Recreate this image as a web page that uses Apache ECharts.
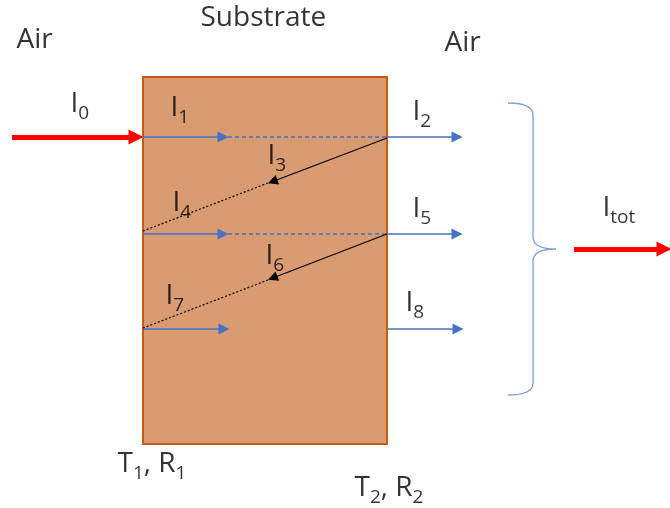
<!DOCTYPE html>
<html><head><meta charset="utf-8">
<script src="https://cdn.jsdelivr.net/npm/echarts@6/dist/echarts.min.js"></script>
<style>html,body{margin:0;padding:0;background:#fff}#c{width:670px;height:508px}</style>
</head><body><div id="c"></div>
<script>
// Diagram geometry (diagram units = axis values)
const substrateBox = [[143, 77, 387, 444]];
const incidentRed = [[[12, 137], [136, 137]]];
const totalRed = [[[574, 249], [664, 249]]];
const blueInside = [[[143, 137], [223, 137]], [[143, 234], [223, 234]], [[143, 329], [224, 329]]];
const blueInsideDashed = [[[228, 137], [387, 137]], [[228, 234], [387, 234]]];
const blueOut = [[[387, 137], [457, 137]], [[387, 234], [457, 234]], [[388, 329], [458, 329]]];
const reflectSolid = [[[387, 138], [272.7, 181.5]], [[387, 234], [272.7, 278]]];
const reflectDotted = [[[268, 183], [143, 231]], [[268, 280], [143, 328]]];
const bracePoints = [[508,103],[533,103],[533,115],[533,237],[533,249],[556,249],[533,249],[533,261],[533,383],[533,395],[508,395]];
const labelTexts = ['{m|Air}', '{m|Substrate}', '{m|Air}', '{m|I}{s|0}', '{m|I}{s|1}', '{m|I}{s|2}', '{m|I}{s|3}', '{m|I}{s|4}', '{m|I}{s|5}', '{m|I}{s|6}', '{m|I}{s|7}', '{m|I}{s|8}', '{m|I}{s|tot}', '{m|T}{s|1}{m|, R}{s|1}', '{m|T}{s|2}{m|, R}{s|2}'];
const labelAnchors = [[16, 40], [200, 18], [444, 43], [70, 104], [170, 108], [412, 112], [267, 156], [172, 203], [412, 209], [265, 256], [165, 296], [405, 303], [602, 208], [117, 464], [354, 488]];

const toLines = arr => arr.map(c => ({ coords: c }));
const lineSeries = (data, color, width, type, sym, size, z) => ({
  type: 'lines', coordinateSystem: 'cartesian2d', z: z || 3,
  data: toLines(data),
  symbol: sym ? ['none', sym] : ['none', 'none'],
  symbolSize: size || 10,
  lineStyle: { color: color, width: width, type: type, opacity: 1, curveness: 0 },
  itemStyle: { color: color },
  silent: true
});

const chart = echarts.init(document.getElementById('c'), null, { renderer: 'canvas' });
chart.setOption({
  animation: false,
  backgroundColor: '#ffffff',
  grid: { left: 0, right: 0, top: 0, bottom: 0 },
  xAxis: { type: 'value', min: 0, max: 670, show: false },
  yAxis: { type: 'value', min: 0, max: 508, inverse: true, show: false },
  series: [
    {
      type: 'custom', z: 1, clip: false,
      data: substrateBox,
      renderItem: (params, api) => {
        const p0 = api.coord([api.value(0), api.value(1)]);
        const p1 = api.coord([api.value(2), api.value(3)]);
        return { type: 'rect', shape: { x: p0[0], y: p0[1], width: p1[0] - p0[0], height: p1[1] - p0[1] },
          style: { fill: '#D99B72', stroke: '#C55A11', lineWidth: 2 } };
      }
    },
    {
      type: 'custom', z: 2, clip: false,
      data: [0],
      renderItem: (params, api) => {
        const p = bracePoints.map(q => api.coord(q).map(v => v.toFixed(2)));
        const d = `M${p[0]} Q${p[1]} ${p[2]} L${p[3]} Q${p[4]} ${p[5]} Q${p[6]} ${p[7]} L${p[8]} Q${p[9]} ${p[10]}`;
        return { type: 'path', shape: { pathData: d }, style: { fill: null, stroke: '#7FA0D8', lineWidth: 1.3 } };
      }
    },
    lineSeries(blueInside, '#4472C4', 1.5, 'solid', 'triangle', 11),
    lineSeries(blueInsideDashed, '#4472C4', 1.5, [4, 3]),
    lineSeries(blueOut, '#4472C4', 1.5, 'solid', 'triangle', 11),
    lineSeries(reflectSolid, '#000000', 1.2, 'solid', 'triangle', 10),
    lineSeries(reflectDotted, '#000000', 1.2, [2, 2]),
    lineSeries(incidentRed, '#FF0000', 5, 'solid', 'triangle', 15, 4),
    lineSeries(totalRed, '#FF0000', 5, 'solid', 'triangle', 15, 4),
    {
      type: 'scatter', z: 5, silent: true,
      symbolSize: 1,
      itemStyle: { color: 'rgba(0,0,0,0)' },
      data: labelAnchors.map((a, i) => ({ value: a, name: labelTexts[i] })),
      label: {
        show: true, position: 'right', distance: 0,
        formatter: p => p.name,
        color: '#000',
        rich: {
          m: { fontFamily: 'Open Sans', fontSize: 28, lineHeight: 38, color: '#000' },
          s: { fontFamily: 'Open Sans', fontSize: 19, lineHeight: 19, verticalAlign: 'bottom', color: '#000' }
        }
      }
    }
  ]
});
</script>
</body></html>
